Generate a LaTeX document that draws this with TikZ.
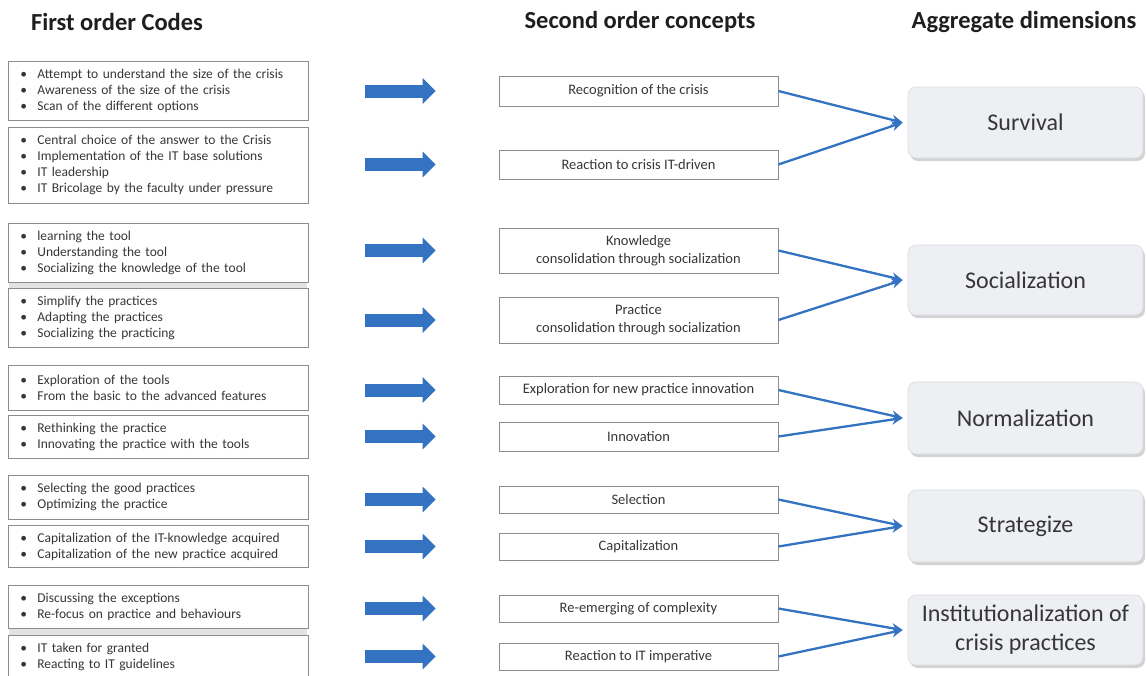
\documentclass[tikz,border=0pt]{standalone}
\usepackage{fontspec}
\setmainfont{Carlito}
\usetikzlibrary{arrows.meta,shadows}
\definecolor{arrowblue}{HTML}{3473C2}
\definecolor{txt}{HTML}{363636}
\definecolor{hdr}{HTML}{1E1E1E}
\definecolor{boxline}{HTML}{8C8C8C}
\definecolor{dimfill}{HTML}{EDEFF2}
\definecolor{dimline}{HTML}{D8DBDF}
\newcommand\cbul{\makebox[17pt][l]{\textbullet}}
\begin{document}
\begin{tikzpicture}[x=1pt,y=-1pt,
  codebox/.style={draw=boxline, line width=0.8pt, minimum width=300pt, text width=276pt,
    inner xsep=12pt, inner ysep=2pt, align=left, font=\fontsize{13.5}{16}\selectfont, text=txt, anchor=north west},
  concept/.style={draw=boxline, line width=0.8pt, minimum width=279pt, inner sep=2pt,
    align=center, font=\fontsize{14.5}{18}\selectfont, text=txt},
  dim/.style={rounded corners=8pt, fill=dimfill, draw=dimline, line width=0.6pt,
    drop shadow={shadow xshift=2pt, shadow yshift=-3pt, opacity=0.35, fill=gray},
    minimum width=235pt, minimum height=71pt, align=center,
    font=\fontsize{24}{29}\selectfont, text=txt},
  header/.style={font=\fontsize{24.5}{29}\selectfont\bfseries, text=hdr},
  bigarrow/.style={draw=arrowblue, line width=13pt, -{Triangle[length=13pt,width=25pt]}},
  thinarrow/.style={draw=arrowblue, line width=2.3pt, -{Stealth[length=11pt,width=10pt]}},
  band/.style={fill=gray!22, draw=none}]
\useasboundingbox (0,0) rectangle (1146,675);

% headers
\node[header] (h1) at (117,22) {First order Codes};
\node[header] (h2) at (640,22) {Second order concepts};
\node[header] (h3) at (1024,22) {Aggregate dimensions};

% separator bands
\fill[band] (9,282.5) rectangle (307,288);
\fill[band] (9,628.5) rectangle (307,635);

% first order codes
\node[codebox, minimum height=59pt] (L1) at (8,61) {\cbul Attempt to understand the size of the crisis\\\cbul Awareness of the size of the crisis\\\cbul Scan of the different options};
\node[codebox, minimum height=76pt] (L2) at (8,127) {\cbul Central choice of the answer to the Crisis\\\cbul Implementation of the IT base solutions\\\cbul IT leadership\\\cbul IT Bricolage by the faculty under pressure};
\node[codebox, minimum height=59pt] (L3) at (8,223) {\cbul learning the tool\\\cbul Understanding the tool\\\cbul Socializing the knowledge of the tool};
\node[codebox, minimum height=59pt] (L4) at (8,288) {\cbul Simplify the practices\\\cbul Adapting the practices\\\cbul Socializing the practicing};
\node[codebox, minimum height=45pt] (L5) at (8,365) {\cbul Exploration of the tools\\\cbul From the basic to the advanced features};
\node[codebox, minimum height=43pt] (L6) at (8,415) {\cbul Rethinking the practice\\\cbul Innovating the practice with the tools};
\node[codebox, minimum height=44pt] (L7) at (8,475) {\cbul Selecting the good practices\\\cbul Optimizing the practice};
\node[codebox, minimum height=42pt] (L8) at (8,525) {\cbul Capitalization of the IT-knowledge acquired\\\cbul Capitalization of the new practice acquired};
\node[codebox, minimum height=43pt] (L9) at (8,585) {\cbul Discussing the exceptions\\\cbul Re-focus on practice and behaviours};
\node[codebox, minimum height=44pt] (L10) at (8,635) {\cbul IT taken for granted\\\cbul Reacting to IT guidelines};

% second order concepts
\node[concept, minimum height=30pt] (M1) at (638.5,91) {Recognition of the crisis};
\node[concept, minimum height=29pt] (M2) at (638.5,164.5) {Reaction to crisis IT-driven};
\node[concept, minimum height=45pt] (M3) at (638.5,250.5) {Knowledge\\consolidation through socialization};
\node[concept, minimum height=46pt] (M4) at (638.5,320) {Practice\\consolidation through socialization};
\node[concept, minimum height=28pt] (M5) at (638.5,390) {Exploration for new practice innovation};
\node[concept, minimum height=29pt] (M6) at (638.5,436.5) {Innovation};
\node[concept, minimum height=27pt] (M7) at (638.5,499.5) {Selection};
\node[concept, minimum height=27pt] (M8) at (638.5,546.5) {Capitalization};
\node[concept, minimum height=27pt] (M9) at (638.5,608.5) {Re-emerging of complexity};
\node[concept, minimum height=27pt] (M10) at (638.5,656.5) {Reaction to IT imperative};

% aggregate dimensions
\node[dim] (D1) at (1025.5,122.5) {Survival};
\node[dim, minimum height=70pt] (D2) at (1025.5,280) {Socialization};
\node[dim, minimum height=72pt] (D3) at (1025.5,418) {Normalization};
\node[dim, minimum height=72pt] (D4) at (1025.5,526) {Strategize};
\node[dim, minimum height=70pt] (D5) at (1025.5,630) {Institutionalization of\\crisis practices};

% block arrows
\foreach \m in {M1,M2,M3,M4,M5,M6,M7,M8,M9,M10}{
  \draw[bigarrow] ([xshift=-134pt]\m.west) -- ([xshift=-63pt]\m.west);
}

% converging arrows
\draw[thinarrow] (M1.east) -- ([xshift=-5pt]D1.west);
\draw[thinarrow] (M2.east) -- ([xshift=-5pt]D1.west);
\draw[thinarrow] (M3.east) -- ([xshift=-5pt]D2.west);
\draw[thinarrow] (M4.east) -- ([xshift=-5pt]D2.west);
\draw[thinarrow] (M5.east) -- ([xshift=-5pt]D3.west);
\draw[thinarrow] (M6.east) -- ([xshift=-5pt]D3.west);
\draw[thinarrow] (M7.east) -- ([xshift=-5pt]D4.west);
\draw[thinarrow] (M8.east) -- ([xshift=-5pt]D4.west);
\draw[thinarrow] (M9.east) -- ([xshift=-5pt]D5.west);
\draw[thinarrow] (M10.east) -- ([xshift=-5pt]D5.west);
\end{tikzpicture}
\end{document}
